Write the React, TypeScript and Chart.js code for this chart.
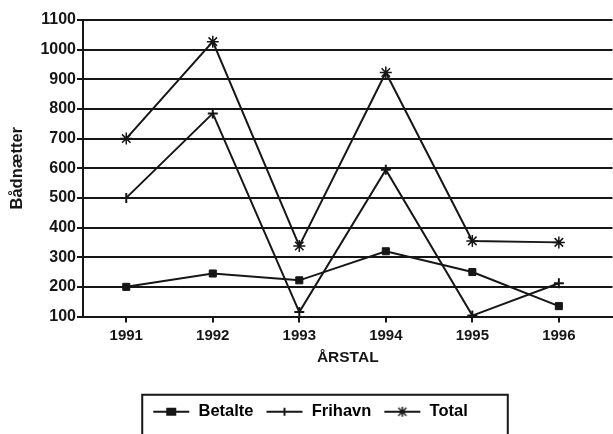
import React, { useEffect, useRef } from "react";
import { Chart, registerables } from "chart.js";

Chart.register(...registerables);

const years = [1991, 1992, 1993, 1994, 1995, 1996];
const betalte = [200, 245, 222, 320, 250, 135];
const frihavn = [500, 785, 115, 595, 103, 212];
const total = [700, 1027, 338, 923, 355, 350];
const yTicks = [100, 200, 300, 400, 500, 600, 700, 800, 900, 1000, 1100];
const seriesNames = ["Betalte", "Frihavn", "Total"];
const xTitle = "ÅRSTAL";
const yTitle = "Bådnætter";

const INK = "#161616";
const FONT = "'Liberation Sans', Arial, sans-serif";

function legendMarker(style: string): HTMLCanvasElement {
  const c = document.createElement("canvas");
  c.width = 38;
  c.height = 12;
  const g = c.getContext("2d")!;
  g.strokeStyle = INK;
  g.fillStyle = INK;
  g.lineWidth = 2;
  g.beginPath();
  g.moveTo(1, 6);
  g.lineTo(37, 6);
  g.stroke();
  const cx = 19, cy = 6;
  if (style === "rect") {
    g.fillRect(cx - 5, cy - 4, 10, 8);
  } else if (style === "cross") {
    g.beginPath();
    g.moveTo(cx, cy - 4);
    g.lineTo(cx, cy + 4);
    g.stroke();
  } else {
    g.lineWidth = 1.5;
    g.beginPath();
    g.moveTo(cx - 4, cy - 4);
    g.lineTo(cx + 4, cy + 4);
    g.moveTo(cx + 4, cy - 4);
    g.lineTo(cx - 4, cy + 4);
    g.moveTo(cx, cy - 5);
    g.lineTo(cx, cy + 5);
    g.stroke();
  }
  return c;
}

const legendBorder = {
  id: "legendBorder",
  afterDraw(chart: any) {
    const lg = chart.legend;
    if (!lg || !lg.legendHitBoxes || !lg.legendHitBoxes.length) return;
    const boxes = lg.legendHitBoxes;
    const left = boxes[0].left - 10;
    const last = boxes[boxes.length - 1];
    const right = last.left + last.width + 40;
    const cy = boxes[0].top + boxes[0].height / 2;
    const ctx = chart.ctx;
    ctx.save();
    ctx.strokeStyle = INK;
    ctx.lineWidth = 2;
    ctx.strokeRect(left, cy - 17, right - left, 60);
    ctx.restore();
  },
};

export default function App() {
  const ref = useRef<HTMLCanvasElement>(null);
  useEffect(() => {
    if (!ref.current) return;
    const mk = (vals: number[]) => vals.map((v, i) => ({ x: years[i], y: v }));
    const styles = ["rect", "cross", "star"];
    const chart = new Chart(ref.current, {
      type: "line",
      data: {
        datasets: [
          {
            label: seriesNames[0],
            data: mk(betalte),
            borderColor: INK,
            backgroundColor: INK,
            borderWidth: 2,
            pointStyle: "rect",
            pointRadius: 5,
            pointBorderWidth: 1,
          },
          {
            label: seriesNames[1],
            data: mk(frihavn),
            borderColor: INK,
            backgroundColor: INK,
            borderWidth: 2,
            pointStyle: "cross",
            pointRadius: 5,
            pointBorderWidth: 2,
          },
          {
            label: seriesNames[2],
            data: mk(total),
            borderColor: INK,
            backgroundColor: INK,
            borderWidth: 2,
            pointStyle: "star",
            pointRadius: 6,
            pointBorderWidth: 1.5,
          },
        ],
      },
      options: {
        animation: false,
        responsive: false,
        layout: { padding: { top: 20, right: 0, bottom: 4, left: 0 } },
        plugins: {
          tooltip: { enabled: false },
          legend: {
            position: "bottom",
            labels: {
              usePointStyle: true,
              pointStyleWidth: 38,
              boxHeight: 12,
              padding: 12,
              color: INK,
              font: { family: FONT, size: 16.5, weight: "bold" },
              generateLabels: () =>
                seriesNames.map((n, i) => ({
                  text: n,
                  pointStyle: legendMarker(styles[i]),
                  fillStyle: INK,
                  strokeStyle: INK,
                  lineWidth: 0,
                  datasetIndex: i,
                  hidden: false,
                })),
            },
          },
        },
        scales: {
          x: {
            type: "linear",
            min: 1990.5,
            max: 1996.62,
            afterBuildTicks: (s: any) => {
              s.ticks = years.map((v) => ({ value: v }));
            },
            afterFit: (s: any) => {
              s.height = 75;
            },
            ticks: {
              color: INK,
              padding: 4,
              font: { family: FONT, size: 15, weight: "bold" },
              callback: (v: any) => String(v),
              maxRotation: 0,
              autoSkip: false,
            },
            grid: {
              drawOnChartArea: false,
              drawTicks: true,
              tickLength: 6,
              color: INK,
              lineWidth: 2,
            },
            border: { display: true, color: INK, width: 2 },
            title: {
              display: true,
              text: xTitle,
              color: INK,
              padding: { top: 0, bottom: 24 },
              font: { family: FONT, size: 15.5, weight: "bold" },
            },
          },
          y: {
            min: 100,
            max: 1100,
            afterBuildTicks: (s: any) => {
              s.ticks = yTicks.map((v) => ({ value: v }));
            },
            afterFit: (s: any) => {
              s.width = 83;
            },
            ticks: {
              color: INK,
              padding: 1,
              font: { family: FONT, size: 16, weight: "bold" },
              callback: (v: any) => String(v),
            },
            grid: {
              color: INK,
              lineWidth: 2,
              tickLength: 6,
              drawTicks: true,
            },
            border: { display: true, color: INK, width: 2 },
            title: {
              display: true,
              text: yTitle,
              color: INK,
              padding: { top: 8, bottom: 0 },
              font: { family: FONT, size: 16.5, weight: "bold" },
            },
          },
        },
      },
      plugins: [legendBorder],
    } as any);
    return () => chart.destroy();
  }, []);
  return (
    <div style={{ position: "absolute", left: 0, top: 0, width: 613, height: 434, overflow: "hidden", background: "#fff" }}>
      <canvas ref={ref} width={620} height={434} style={{ display: "block" }} />
    </div>
  );
}
